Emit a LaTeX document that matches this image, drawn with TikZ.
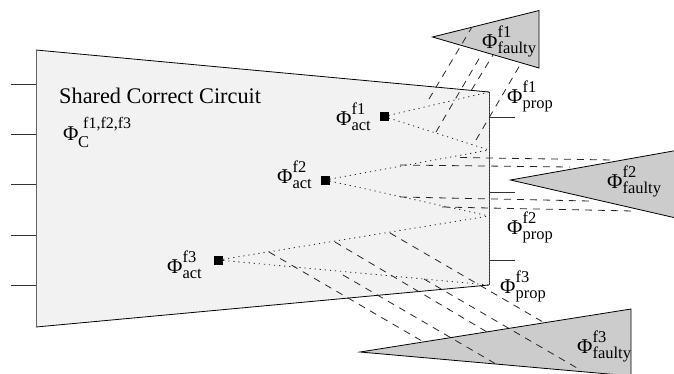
\documentclass[tikz,border=0pt]{standalone}
\usepackage{fontspec}
\setmainfont{Liberation Serif}
\newcommand{\philab}[2]{\fontsize{21}{21}\selectfont Φ\fontsize{16.5}{17}\selectfont\rlap{\raisebox{11pt}{#1}}\raisebox{-5pt}{#2}}
\tikzset{
  wire/.style={line width=0.8pt,draw=black!80},
  edge/.style={line width=0.8pt,draw=black},
  faulty/.style={fill=black!20,draw=black,line width=0.8pt},
  dotl/.style={line width=0.8pt,dash pattern=on 1.2pt off 3.9pt,draw=black!85},
  dashl/.style={line width=0.8pt,dash pattern=on 7pt off 6pt,draw=black!85},
  act/.style={fill=black,minimum size=9pt,inner sep=0pt},
  lab/.style={anchor=base west,inner sep=0pt,text depth=0pt},
}
\begin{document}
\begin{tikzpicture}[x=1pt,y=-1pt]
\useasboundingbox (0,0) rectangle (674,373);
\clip (0,0) rectangle (674,373);
% coordinates of block
\coordinate (tl) at (36,50);
\coordinate (tr) at (489,92);
\coordinate (br) at (489,285);
\coordinate (bl) at (36,327);
\fill[black!5] (tl) -- (tr) -- (br) -- (bl) -- cycle;
\draw[edge] (br) -- (bl);
\draw[edge] (tl) -- (tr);
\draw[wire,draw=black!60,line width=1pt] (tl) -- (bl);
\draw[line width=0.4pt,draw=black!70] (tr) -- (br);
\draw[dotl,dash pattern=on 1pt off 2pt] (tr) -- (br);
% stubs
\foreach \y in {84,134,184,235,285} \draw[wire] (11,\y) -- (36,\y);
\foreach \y in {117,192.5,260} \draw[wire] (489,\y) -- (515,\y);
% triangles
\draw[faulty] (432.5,37) coordinate (t1) -- (539,10.5) -- (539,68) -- cycle;
\draw[faulty] (510.5,180) coordinate (t2) -- (676,150.5) -- (676,218) -- cycle;
\draw[faulty] (360,352) coordinate (t3) -- (631,309) -- (631,376) -- cycle;
% activation points
\node[act] (a1) at (384,116.5) {};
\node[act] (a2) at (325,180) {};
\node[act] (a3) at (218.5,260) {};
% dotted cones
\coordinate (p1) at (489,92);
\coordinate (p2) at (489,150);
\coordinate (p3) at (489,216);
\coordinate (p4) at (489,285);
\draw[dotl] (a1) -- (p1);
\draw[dotl] (a1) -- (p2);
\draw[dotl] (a2) -- (p2);
\draw[dotl] (a2) -- (p3);
\draw[dotl] (a3) -- (p3);
\draw[dotl] (a3) -- (p4);
% dashed f1
\foreach \a/\b in {{429,99}/{472,27},{436,132}/{480,57},{471.5,90}/{493,55},{476,140}/{520,65}}
  \draw[dashl] (\a) -- (\b);
% dashed f2
\foreach \a/\b in {{460,157.5}/{613,160},{400,165}/{570,167},{400,197}/{590,201},{442,207}/{633,211}}
  \draw[dashl] (\a) -- (\b);
% dashed f3
\foreach \a/\b in {{269,252}/{422,341},{335,242}/{487,332},{390,233}/{543,322},{343,275}/{496,364},{424,279}/{577,368}}
  \draw[dashl] (\a) -- (\b);
% labels
\node[lab] (title) at (59,103) {\fontsize{22.3}{23}\selectfont Shared Correct Circuit};
\node[lab] (phic) at (63,140) {\fontsize{21}{21}\selectfont Φ};
\node[lab] (cs) at (78,147) {\fontsize{16.5}{17}\selectfont C};
\node[lab] (cu) at (83,128) {\fontsize{16}{17}\selectfont f1,f2,f3};
\node[lab] (l1) at (482,48) {\philab{f1}{faulty}};
\node[lab] (l2) at (607,188) {\philab{f2}{faulty}};
\node[lab] (l3) at (577,353) {\philab{f3}{faulty}};
\node[lab] (l4) at (507,103) {\philab{f1}{prop}};
\node[lab] (l5) at (507,234) {\philab{f2}{prop}};
\node[lab] (l6) at (500,293) {\philab{f3}{prop}};
\node[lab] (l7) at (336,125) {\philab{f1}{act}};
\node[lab] (l8) at (277,183) {\philab{f2}{act}};
\node[lab] (l9) at (167,273) {\philab{f3}{act}};
\end{tikzpicture}
\end{document}
